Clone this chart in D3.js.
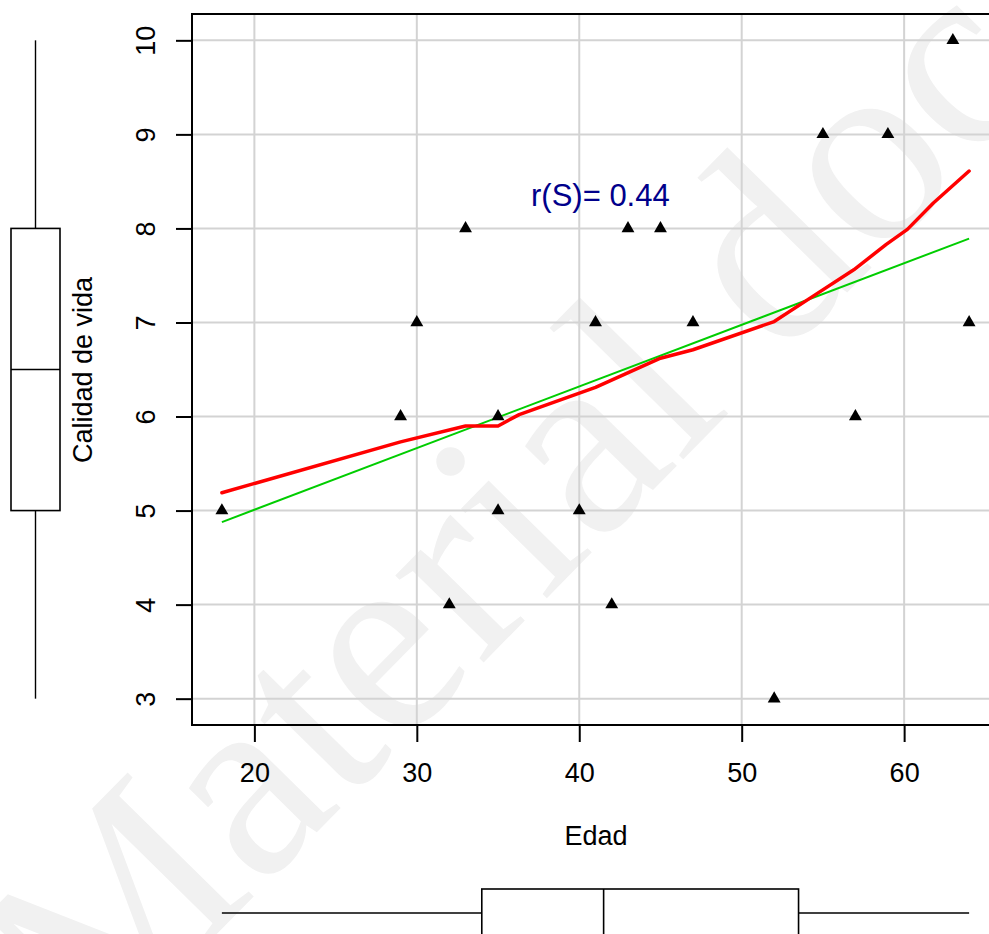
<!DOCTYPE html>
<html>
<head>
<meta charset="utf-8">
<script src="https://cdn.jsdelivr.net/npm/d3@7"></script>
<style>
  body { margin: 0; background: #fff; }
  svg { display: block; font-family: "Liberation Sans", Arial, sans-serif; }
</style>
</head>
<body>
<svg width="989" height="934"></svg>
<script>
// data
const edad    = [18, 29, 30, 32, 33, 35, 35, 40, 41, 42, 43, 45, 47, 52, 55, 57, 59, 63, 64];
const calidad = [5, 6, 7, 4, 8, 6, 5, 5, 7, 4, 8, 8, 7, 3, 9, 6, 9, 10, 7];

// smoother (red line)
const suaveX = [18, 29, 33, 35, 36.3, 41, 45, 47, 52, 54.4, 56.9, 58.9, 60.2, 61.8, 64];
const suaveY = [5.19, 5.73, 5.90, 5.90, 6.02, 6.31, 6.62, 6.71, 7.01, 7.28, 7.56, 7.83, 7.99, 8.27, 8.61];

// marginal boxplots: min, lower hinge, median, upper hinge, max
const cajaEdad    = [18, 34, 41.5, 53.5, 64];
const cajaCalidad = [3, 5, 6.5, 8, 10];

const xTicks = [20, 30, 40, 50, 60];
const yTicks = [3, 4, 5, 6, 7, 8, 9, 10];
const etiquetaR = "r(S)= 0.44";

const svg = d3.select("svg");
const plot = { left: 192, top: 14, right: 999, bottom: 725 };

// R style axis range: data extent +/- 4%
function rango(v) {
  const [a, b] = d3.extent(v);
  const pad = (b - a) * 0.04;
  return [a - pad, b + pad];
}

const x = d3.scaleLinear().domain(rango(edad)).range([plot.left, plot.right]);
const y = d3.scaleLinear().domain(rango(calidad)).range([plot.bottom, plot.top]);

// watermark
svg.append("text")
  .attr("transform", "translate(91,1062) rotate(-45.5)")
  .attr("font-family", "'Liberation Serif', 'DejaVu Serif', serif")
  .attr("font-size", 270)
  .attr("fill", "#f1f1f1")
  .text("Material docente");

const g = svg.append("g");

// grid
g.selectAll(".gx").data(xTicks).enter().append("line")
  .attr("x1", d => x(d)).attr("x2", d => x(d))
  .attr("y1", plot.top).attr("y2", plot.bottom)
  .attr("stroke", "#d3d3d3").attr("stroke-width", 2);
g.selectAll(".gy").data(yTicks).enter().append("line")
  .attr("y1", d => y(d)).attr("y2", d => y(d))
  .attr("x1", plot.left).attr("x2", plot.right)
  .attr("stroke", "#d3d3d3").attr("stroke-width", 2);

// least squares line
const mx = d3.mean(edad), my = d3.mean(calidad);
const sxy = d3.sum(edad, (d, i) => (d - mx) * (calidad[i] - my));
const sxx = d3.sum(edad, d => (d - mx) * (d - mx));
const b1 = sxy / sxx, b0 = my - b1 * mx;
const [xmin, xmax] = d3.extent(edad);
g.append("line")
  .attr("x1", x(xmin)).attr("y1", y(b0 + b1 * xmin))
  .attr("x2", x(xmax)).attr("y2", y(b0 + b1 * xmax))
  .attr("stroke", "#00cd00").attr("stroke-width", 2);

// smoother
const linea = d3.line().x(d => x(d[0])).y(d => y(d[1]));
g.append("path")
  .datum(d3.zip(suaveX, suaveY))
  .attr("d", linea)
  .attr("fill", "none")
  .attr("stroke", "#ff0000")
  .attr("stroke-width", 3.5)
  .attr("stroke-linejoin", "round")
  .attr("stroke-linecap", "round");

// points
g.selectAll(".pt").data(d3.zip(edad, calidad)).enter().append("path")
  .attr("d", d3.symbol(d3.symbolTriangle, 72))
  .attr("transform", d => `translate(${x(d[0])},${y(d[1])})`)
  .attr("fill", "#000");

// frame
g.append("rect")
  .attr("x", plot.left).attr("y", plot.top)
  .attr("width", plot.right - plot.left).attr("height", plot.bottom - plot.top)
  .attr("fill", "none").attr("stroke", "#000").attr("stroke-width", 2);

// axes
const ejeX = g.append("g")
  .attr("transform", `translate(0,${plot.bottom})`)
  .call(d3.axisBottom(x).tickValues(xTicks).tickSize(17).tickPadding(21).tickSizeOuter(0));
const ejeY = g.append("g")
  .attr("transform", `translate(${plot.left},0)`)
  .call(d3.axisLeft(y).tickValues(yTicks).tickSize(16).tickSizeOuter(0));
[ejeX, ejeY].forEach(e => {
  e.select(".domain").remove();
  e.selectAll("line").attr("stroke", "#000").attr("stroke-width", 2);
  e.selectAll("text").attr("font-size", 27).attr("font-family", "'Liberation Sans', Arial, sans-serif").attr("fill", "#000");
});
ejeY.selectAll("text")
  .attr("x", null).attr("dy", null)
  .attr("text-anchor", "middle")
  .attr("dominant-baseline", "central")
  .attr("transform", d => `translate(-46,0) rotate(-90)`);

// axis titles
svg.append("text")
  .attr("x", 596).attr("y", 836)
  .attr("text-anchor", "middle").attr("dominant-baseline", "central")
  .attr("font-size", 27).text("Edad");
svg.append("text")
  .attr("transform", "translate(83,370) rotate(-90)")
  .attr("text-anchor", "middle").attr("dominant-baseline", "central")
  .attr("font-size", 27).text("Calidad de vida");

// correlation label
svg.append("text")
  .attr("x", x(41.3)).attr("y", y(8.35))
  .attr("text-anchor", "middle").attr("dominant-baseline", "central")
  .attr("font-size", 31).attr("fill", "#00008b")
  .text(etiquetaR);

// boxplot for calidad (left margin)
const cy = 35.5, hw = 24.5;
const bl = svg.append("g").attr("stroke", "#000").attr("fill", "none");
bl.append("line").attr("x1", cy).attr("x2", cy).attr("y1", y(cajaCalidad[0])).attr("y2", y(cajaCalidad[1])).attr("stroke-width", 1.4);
bl.append("line").attr("x1", cy).attr("x2", cy).attr("y1", y(cajaCalidad[3])).attr("y2", y(cajaCalidad[4])).attr("stroke-width", 1.4);
bl.append("rect").attr("x", cy - hw).attr("width", 2 * hw)
  .attr("y", y(cajaCalidad[3])).attr("height", y(cajaCalidad[1]) - y(cajaCalidad[3]))
  .attr("stroke-width", 1.6);
bl.append("line").attr("x1", cy - hw).attr("x2", cy + hw).attr("y1", y(cajaCalidad[2])).attr("y2", y(cajaCalidad[2])).attr("stroke-width", 1.6);

// boxplot for edad (bottom margin)
const cx = 913, hh = 24;
const bb = svg.append("g").attr("stroke", "#000").attr("fill", "none");
bb.append("line").attr("y1", cx).attr("y2", cx).attr("x1", x(cajaEdad[0])).attr("x2", x(cajaEdad[1])).attr("stroke-width", 1.4);
bb.append("line").attr("y1", cx).attr("y2", cx).attr("x1", x(cajaEdad[3])).attr("x2", x(cajaEdad[4])).attr("stroke-width", 1.4);
bb.append("rect").attr("y", cx - hh).attr("height", 2 * hh)
  .attr("x", x(cajaEdad[1])).attr("width", x(cajaEdad[3]) - x(cajaEdad[1]))
  .attr("stroke-width", 1.6);
bb.append("line").attr("y1", cx - hh).attr("y2", cx + hh).attr("x1", x(cajaEdad[2])).attr("x2", x(cajaEdad[2])).attr("stroke-width", 1.6);
</script>
</body>
</html>
